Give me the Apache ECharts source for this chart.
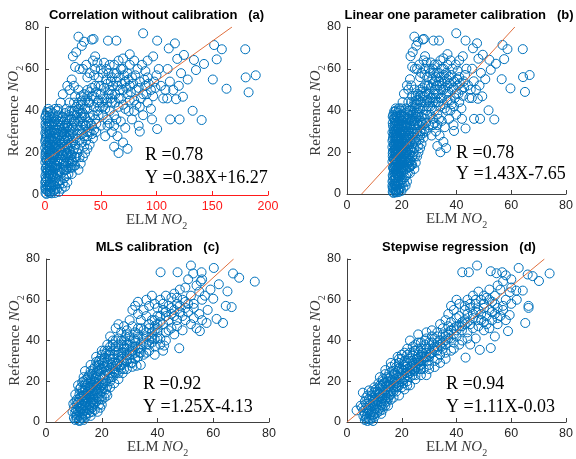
<!DOCTYPE html>
<html><head><meta charset="utf-8">
<script src="https://cdn.jsdelivr.net/npm/echarts@6/dist/echarts.min.js"></script>
<style>html,body{margin:0;padding:0;background:#fff}#c{width:576px;height:459px}</style>
</head><body><div id="c"></div>
<script>
const titles = ['Correlation without calibration   (a)','Linear one parameter calibration   (b)','MLS calibration   (c)','Stepwise regression   (d)'];
const rTexts = ['R =0.78','R =0.78','R =0.92','R =0.94'];
const eqTexts = ['Y =0.38X+16.27','Y =1.43X-7.65','Y =1.25X-4.13','Y =1.11X-0.03'];
const slopes = [0.38,1.43,1.25,1.11];
const intercepts = [16.27,-7.65,-4.13,-0.03];
const xMaxes = [200,80,80,80];
const xIntervals = [50,20,20,20];
const yMax = 80;
const yInterval = 20;

const pointsA = [
[0.5,1],[1,2.5],[0.3,4],[1.5,5],[0.8,6.5],[2,7.5],[0.4,9],[1.2,10.5],[2.5,11],[0.6,12.5],[1.8,14],[0.3,15.5],[1,17],[2.2,18],[0.5,19.5],[1.5,21],[0.2,22.5],[1.1,24],[2.4,25],[0.6,26.5],[1.7,28],[0.3,29.5],[1.2,31],[2,32.5],[0.5,34],[1.4,36],[0.8,38],[2.5,39.5],[3,41],[0.4,3],[2.8,2],[3.5,5],[3,9],[3.8,13],[3.2,16],[3.6,20],[3.1,23],[3.9,27],[3.3,30],[3.7,34],[2.6,36.5],[0.9,27.5],[1.9,23.5],[0.7,20.5],[1.6,16.5],[2.1,12],[0.9,8],[1.3,0.5],
[5,40],[7,39],[9,41],[11,40],[6,37],[12,38],
[5,2],[6,4],[8,6],[4.5,8],[7,9],[10,8],[12,10],[5.5,12],[9,12.5],[14,13],[6,15],[11,16],[16,15],[4.5,17],[8,18],[13,19],[18,18],[6,21],[10,22],[15,21],[20,20],[5,24],[9,25],[14,24],[18,26],[7,28],[12,29],[16,30],[5,31],[10,33],[14,35],[20,27],[22,16],[19,12],[17,8],[13,5],[24,10],[26,14],[15,3],[9,2.5],
[20,33],[22,36],[24,40],[26,38],[28,42],[30,35],[32,39],[25,30],[28,27],[31,31],[34,34],[36,37],[38,41],[40,44],[35,28],[38,30],[42,33],[45,36],[47,40],[30,22],[33,25],[36,20],[40,24],[43,27],[46,30],[28,18],[32,15],[26,22],[24,25],[22,28],[27,47],[30,50],[33,45],[35,48],[22,44],[19,41],[18,36],[38,50],[42,47],[45,52],[48,45],[50,48],[40,37],[44,42],[50,33],[52,38],[37,26],[34,18],[25,16],[30,12],[23,19],[21,23],[29,33],[33,29],[39,35],
[52,42],[55,46],[58,50],[60,44],[63,48],[65,52],[55,55],[58,40],[62,38],[66,42],[68,46],[70,50],[72,54],[60,56],[64,58],[68,60],[74,48],[76,52],[78,56],[80,45],[82,50],[85,54],[88,48],[90,52],[92,56],[95,50],[98,54],[100,57],[75,40],[78,36],[72,32],[68,35],[60,30],[56,33],[54,28],[65,28],[70,25],[74,22],[66,20],[62,23],[85,42],[88,38],[92,44],[95,41],[83,60],[87,62],[90,59],[80,64],[76,62],[104,52],[108,50],[112,54],[115,50],[120,52],[102,60],[106,46],[96,36],[84,33],[58,62],[52,58],[55,60],[48,56],[45,60],[50,52],
[30,75.4],[33,71],[35,73],[28,68],[25,66],[27,61],[31,60],[34,60],[37,62],[40,58],[43,64],[44,57],[20,52],[22,50],[24,55],[26,52],[16,48],[14,44],[42,74],[38,56],
[43.5,74.3],[56.5,73.5],[64,73.5],[88,77],[100.6,73.5],[116.5,72.2],[111,69.8],[151.7,71.4],[158.6,69.4],[179.6,69.4],[180,56],[189,57],[182.6,48.9],[162.8,50.6],[150.5,55],[142.6,62.4],[135.4,59.5],[133.6,64.3],[154,64.6],[132.4,40.1],[140.5,35.7],[120.7,36],[112.3,36],[100.6,31.4],[85,30.2],[124.6,66.7],[118.6,64.8],[123.7,46.8],[117.6,45.6],[109.6,46],[97,66],[92,64],[76,67],[70,65],[128,55],[122,58],[110,60]
];
const denseA = [
[4.5,1],[6,0.8],[7.5,2],[9,1],[11,3],[12.5,1.5],[4,4.5],[5.5,6],[7,5],[9,4.5],[10.5,5.5],[12,6.5],[14,7],[16,5.5],[18,4],[20,6],[4,10],[5.5,9.5],[7,11],[8.5,8.5],[10,10.5],[11.5,12],[13,11],[15,10.5],[17,12],[19,9],[21,10],[23,13],[4.5,14],[6.5,13],[8,15],[9.5,14],[11,14],[13,16],[15,17],[17,16],[19,15],[21,18],[23,15],[4,19],[5.5,18],[7,20],[9,19.5],[11,19],[12.5,21],[14,22],[16,19],[18,21],[20,23],[22,21],[24,19],[4.5,22],[6,23],[8,22.5],[10,24],[12,23],[13,26],[15,25],[17,23],[19,24],[21,26],[23,24],[4,26],[5.5,27],[7,25.5],[9,27],[11,27],[13,28.5],[15,28],[17,29],[19,28],[21,30],[4.5,29],[6,30],[8,31],[9.5,29.5],[11,31],[13,32],[15,33],[17,32],[19,34],[4,33],[6,34],[8,35],[10,36],[12,35],[16,37],[18,39],[21,38],
[22,31],[24,33],[26,35],[25,27],[27,24],[29,29],[31,26],[32,33],[34,31],[35,38],[37,33],[38,28],[40,30],[41,34],[43,38],[44,31],[46,34],[48,38],[49,42],[51,44],[53,46],[54,41],[56,44],[57,48],[59,46],[26,44],[28,38],[30,44],[32,47],[34,43],[36,45],[38,47],[40,49],[42,51],[44,47],[46,49],[48,52],[29,20],[31,18],[35,23],[38,22],[42,29],[27,14],[24,13],[21,13],[33,37],[36,41],[39,44],[47,44],
[53,51],[56,53],[59,54],[61,52],[62,58],[64,54],[66,56],[67,50],[69,53],[71,57],[73,51],[75,55],[77,49],[79,53],[81,57],[84,51],[86,46],[89,55],[91,48],[93,53],[97,47],[99,51],[60,48],[63,44],[66,46],[70,43],[72,41],[76,45],[80,40],[82,43],[70,60],[74,58],[62,62],[66,64],[57,58],[53,63],[50,60],[47,63],[45,66],[56,36],[58,34],[62,33],[64,36]
];
const coreA = [
[0.2,6],[1,13],[0.4,18],[2.7,21],[0.2,25.5],[1.3,29],[0.6,32.5],[2.3,35],[0.3,37],[1.6,39.5],[4.2,37.5],[4.8,35],[5.2,3.5],[3.9,1],[2.2,4],[4.5,11.5],[6.5,10],[5,15.5],[4.5,20.5],[6.5,26],[5,28],[7.5,32.5],[6.5,17.5],[8.5,20.5],[9.5,23],[7.5,24],[10,29.5],[8.5,33.5],[11,37.5],[13.5,33],[15,37],[12,41],[18,33],[20,36],[22,40],[14.5,30],[16.5,27],[18.5,30],[20,32],[23,29],[25,32],[27,35],[24,36],[29,39],[26,40],[30,41],[32,43],[34,39],[31,36],[36,33],[25,21],[27,18],[24,16],[19,20],[21,15],[17,14],[15,19],[12,17],[10,14],[8,13]
];

const pointsB = [
[16.7,1],[17,2.5],[16.6,4],[17.2,5],[16.9,6.5],[17.5,7.5],[16.7,9],[17.1,10.5],[17.6,11],[16.8,12.5],[17.3,14],[16.6,15.5],[17,17],[17.5,18],[16.7,19.5],[17.2,21],[16.6,22.5],[17,24],[17.6,25],[16.8,26.5],[17.3,28],[16.6,29.5],[17.1,31],[17.4,32.5],[16.7,34],[17.2,36],[16.9,38],[17.6,39.5],[17.8,41],[16.7,3],[17.7,2],[17.5,5],[17.4,9],[17.6,13],[17.5,16],[17.6,20],[17.4,23],[17.6,27],[17.5,30],[17.6,34],[17.3,36.5],[16.9,27.5],[17.2,23.5],[16.8,20.5],[17.1,16.5],[17.2,12],[16.9,8],[17,0.5],
[17.9,40],[18.5,39],[19,41],[19.5,40],[18.2,37],[19.8,38],
[17.9,2],[18.2,4],[18.7,6],[17.8,8],[18.5,9],[19.2,8],[19.8,10],[18.1,12],[19,12.5],[20.3,13],[18.2,15],[19.5,16],[20.8,15],[17.8,17],[18.7,18],[20,19],[21.4,18],[18.2,21],[19.2,22],[20.6,21],[21.9,20],[17.9,24],[19,25],[20.3,24],[21.4,26],[18.5,28],[19.8,29],[20.8,30],[17.9,31],[19.2,33],[20.3,35],[21.9,27],[22.4,16],[21.6,12],[21.1,8],[20,5],[23,10],[23.5,14],[20.6,3],[19,2.5],
[21.9,33],[22.4,36],[23,40],[23.5,38],[24,42],[24.6,35],[25.1,39],[23.2,30],[24,27],[24.8,31],[25.6,34],[26.1,37],[26.7,41],[27.2,44],[25.9,28],[26.7,30],[27.7,33],[28.5,36],[29,40],[24.6,22],[25.3,25],[26.1,20],[27.2,24],[28,27],[28.8,30],[24,18],[25.1,15],[23.5,22],[23,25],[22.4,28],[23.8,47],[24.6,50],[25.3,45],[25.9,48],[22.4,44],[21.6,41],[21.4,36],[26.7,50],[27.7,47],[28.5,52],[29.3,45],[29.9,48],[27.2,37],[28.3,42],[29.9,33],[30.4,38],[26.4,26],[25.6,18],[23.2,16],[24.6,12],[22.7,19],[22.2,23],[24.3,33],[25.3,29],[26.9,35],
[30.4,42],[31.2,46],[32,50],[32.5,44],[33.3,48],[33.8,52],[31.2,55],[32,40],[33,38],[34.1,42],[34.6,46],[35.2,50],[35.7,54],[32.5,56],[33.6,58],[34.6,60],[36.2,48],[36.7,52],[37.3,56],[37.8,45],[38.3,50],[39.1,54],[39.9,48],[40.4,52],[41,56],[41.8,50],[42.6,54],[43.1,57],[36.5,40],[37.3,36],[35.7,32],[34.6,35],[32.5,30],[31.4,33],[30.9,28],[33.8,28],[35.2,25],[36.2,22],[34.1,20],[33,23],[39.1,42],[39.9,38],[41,44],[41.8,41],[38.6,60],[39.7,62],[40.4,59],[37.8,64],[36.7,62],[44.2,52],[45.2,50],[46.3,54],[47.1,50],[48.4,52],[43.6,60],[44.7,46],[42,36],[38.9,33],[32,62],[30.4,58],[31.2,60],[29.3,56],[28.5,60],[29.9,52],
[24.6,75.4],[25.3,71],[25.9,73],[24,68],[23.2,66],[23.8,61],[24.8,60],[25.6,60],[26.4,62],[27.2,58],[28,64],[28.3,57],[21.9,52],[22.4,50],[23,55],[23.5,52],[20.8,48],[20.3,44],[27.7,74],[26.7,56],
[28.1,74.3],[31.6,73.5],[33.6,73.5],[39.9,77],[43.3,73.5],[47.5,72.2],[46,69.8],[56.8,71.4],[58.6,69.4],[64.2,69.4],[64.3,56],[66.7,57],[65,48.9],[59.7,50.6],[56.5,55],[54.4,62.4],[52.5,59.5],[52,64.3],[57.4,64.6],[51.7,40.1],[53.8,35.7],[48.6,36],[46.4,36],[43.3,31.4],[39.1,30.2],[49.6,66.7],[48,64.8],[49.4,46.8],[47.8,45.6],[45.6,46],[42.3,66],[41,64],[36.7,67],[35.2,65],[50.5,55],[48.9,58],[45.7,60]
];
const denseB = [
[17.8,1],[18.2,0.8],[18.6,2],[19,1],[19.5,3],[19.9,1.5],[17.7,4.5],[18.1,6],[18.5,5],[19,4.5],[19.4,5.5],[19.8,6.5],[20.3,7],[20.8,5.5],[21.4,4],[21.9,6],[17.7,10],[18.1,9.5],[18.5,11],[18.9,8.5],[19.2,10.5],[19.6,12],[20,11],[20.6,10.5],[21.1,12],[21.6,9],[22.2,10],[22.7,13],[17.8,14],[18.3,13],[18.7,15],[19.1,14],[19.5,14],[20,16],[20.6,17],[21.1,16],[21.6,15],[22.2,18],[22.7,15],[17.7,19],[18.1,18],[18.5,20],[19,19.5],[19.5,19],[19.9,21],[20.3,22],[20.8,19],[21.4,21],[21.9,23],[22.4,21],[23,19],[17.8,22],[18.2,23],[18.7,22.5],[19.2,24],[19.8,23],[20,26],[20.6,25],[21.1,23],[21.6,24],[22.2,26],[22.7,24],[17.7,26],[18.1,27],[18.5,25.5],[19,27],[19.5,27],[20,28.5],[20.6,28],[21.1,29],[21.6,28],[22.2,30],[17.8,29],[18.2,30],[18.7,31],[19.1,29.5],[19.5,31],[20,32],[20.6,33],[21.1,32],[21.6,34],[17.7,33],[18.2,34],[18.7,35],[19.2,36],[19.8,35],[20.8,37],[21.4,39],[22.2,38],
[22.4,31],[23,33],[23.5,35],[23.2,27],[23.8,24],[24.3,29],[24.8,26],[25.1,33],[25.6,31],[25.9,38],[26.4,33],[26.7,28],[27.2,30],[27.5,34],[28,38],[28.3,31],[28.8,34],[29.3,38],[29.6,42],[30.1,44],[30.6,46],[30.9,41],[31.4,44],[31.7,48],[32.2,46],[23.5,44],[24,38],[24.6,44],[25.1,47],[25.6,43],[26.1,45],[26.7,47],[27.2,49],[27.7,51],[28.3,47],[28.8,49],[29.3,52],[24.3,20],[24.8,18],[25.9,23],[26.7,22],[27.7,29],[23.8,14],[23,13],[22.2,13],[25.3,37],[26.1,41],[26.9,44],[29,44],
[30.6,51],[31.4,53],[32.2,54],[32.8,52],[33,58],[33.6,54],[34.1,56],[34.4,50],[34.9,53],[35.4,57],[36,51],[36.5,55],[37,49],[37.5,53],[38.1,57],[38.9,51],[39.4,46],[40.2,55],[40.7,48],[41.2,53],[42.3,47],[42.8,51],[32.5,48],[33.3,44],[34.1,46],[35.2,43],[35.7,41],[36.7,45],[37.8,40],[38.3,43],[35.2,60],[36.2,58],[33,62],[34.1,64],[31.7,58],[30.6,63],[29.9,60],[29.1,63],[28.5,66],[31.4,36],[32,34],[33,33],[33.6,36]
];
const coreB = [
[16.6,6],[17,13],[16.7,18],[17.5,21.5],[16.6,25.5],[17.1,29],[16.8,32.5],[17.4,35],[16.7,37],[17.2,39.5],[17.9,37.5],[18,35],[18.2,3.5],[17.6,1],[17.4,4],[17.9,11.5],[18.3,10],[17.9,15.5],[17.8,20.5],[18.3,26],[17.9,28],[18.6,32.5],[18.3,17.5],[18.9,20.5],[19.1,23],[18.6,24],[19.2,29.5],[18.9,33.5],[19.5,37.5],[20.2,33],[20.6,37],[19.8,41],[21.4,33],[21.9,36],[22.4,40],[20.4,30],[21,27],[21.5,30],[21.9,32],[22.7,29],[23.2,32],[23.8,35],[23,36],[24.3,39],[23.5,40],[24.6,41],[25.1,43],[25.6,39],[24.8,36],[26.1,33],[23.2,21],[23.8,18],[23,16],[21.6,20],[22.2,15],[21.1,14],[20.6,19],[19.8,17],[19.2,14],[18.7,13]
];

const pointsC = [
[10,2],[11,1.5],[12,3],[10.5,4.5],[11.5,5.5],[13,4],[12.5,6.5],[14,5.5],[10,7],[11,8.5],[13,8],[14.5,7.5],[12,10],[13.5,10.5],[15,9.5],[11,11],[12.5,12.5],[14,12],[15.5,13],[16,11],[10.5,13.5],[13,14.5],[15,15],[9.5,5],[9.8,9],[11.8,0.8],[14.2,2.5],[15.5,4.5],[16.5,7],[17,9.5],[16.8,12.5],[12,16],[14,17],[11.5,18],[13,19.5],[18.5,5],[19.5,7],
[15.5,17],[16.5,15.5],[17,18],[18,16],[16,20],[17.5,21],[19,19],[18.5,14],[19.5,17],[20,15],[15,22],[16.5,23.5],[18,24],[19.5,22.5],[20.5,21],[21,19],[22,17.5],[17,26],[18.5,27.5],[20,26],[21.5,25],[22.5,23],[19,30],[20.5,29],[22,28],[23,26.5],[16,28],[18,32],[20,33],[21,12],[23,20],[24,22],[19,11],[17.5,9],[20,8.5],[22,13],[13.5,22],[14,25],
[23,31],[24,29],[25,27.5],[26,30],[24.5,33],[26,35],[27,32],[28,34],[25,37],[27,38],[29,36],[30,38],[28,40],[26,41],[31,35],[32,37],[30,33],[29,31],[27,28],[25,24],[28,26],[31,29],[33,32],[34,36],[32,40],[30,42],[24,40],[22,38],[23,35],[27,44],[29,43],[33,41],[35,39],[36,34],[34,28],[33,46],[31,47],[28,47],[25,46],[21,35],[23,42],[26,48],[30,50],
[36,42],[38,44],[37,48],[39,50],[40,46],[42,48],[41,52],[43,54],[44,50],[46,52],[45,56],[47,58],[48,54],[50,56],[49,60],[51,58],[52,62],[53,56],[50,50],[47,47],[44,45],[40,41],[38,39],[35,45],[34,50],[33,53],[35,55],[37,57],[39,58],[36,60],[38,62],[41,60],[43,62],[45,61],[40,56],[42,58],[46,63],[48,65],[50,66],[54,67],[55,64],[56,60],[53,51],[55,53],[52,48],[49,45],[46,43],[43,40],[41,38],[37,35],[39,33],[42,35],[55.5,69],[56,70],[51,70],[33,59],[32,57],[31,55],
[41.1,73.5],[47.2,73.5],[52,76.8],[52.8,72.9],[55.8,73.5],[60.2,75.6],[67.1,72.9],[69.3,70.8],[74.9,68.9],[65.1,64.1],[62,67.6],[60,60.5],[64.5,57],[66.6,56.4],[63.5,48.6],[61.2,50.6],[55.2,44.6],[57.6,48.6],[47.8,36.2],[42.4,37.5],[39,40.6],[32.5,27.6],[31,27.1],[58,55],[57,62],[59,65],[54,46],[56,50]
];
const denseC = [
[10.5,1],[12.5,2],[13.5,1],[11,3.5],[12,5],[13.5,6],[15,6.5],[10.8,6],[11.8,7.5],[12.8,9],[14,9],[15.5,8],[16,9.5],[12,11.5],[13,12.5],[14.5,11],[16,12],[17,11],[13,15.5],[14.5,14],[16,14],[17.5,13],[18.5,12],[12.5,17],[14,18.5],[15.5,16],[17,15],[18,17.5],[19,16],[13.5,20],[15,19],[16.5,18],[18,19],[20,18],[14.5,21],[16,21],[17.5,19.5],[19,21],[20.5,19],[21.5,16],[15.5,23],[17,22.5],[18.5,25],[19.5,26],[21,23],[22,25],[23.5,22],[16,25],[17.5,27],[19,28],[20.5,27.5],[22,30],[23.5,28],[25,26],[18,29.5],[19.5,31],[21,31.5],[22.5,33],[24,31],[25.5,29],[26.5,27],[20,35],[21.5,33.5],[23,37],[24.5,35],[26,33],[27.5,31],[28,36],[29,38],[30,35],[31,37],[32,39],[27,40],[28.5,42],[30,40],[31.5,41],[33,43],[34,38],[35,41],[36,44],[34,46],[32,44],[29,45],[37,46],[38,50],[40,52],[36,52],[39,47],[41,49],[43,52],[45,53],[44,57],[46,55],[48,57],[50,59],[47,61],[42,55],[20,12.5],[21.5,14],[23,17],[24.5,19],[26,21],[27.5,24],[29,26],[30.5,29],[32,31],[33.5,34],[35,33],[37,38],[39,37],[41,41],[43,44],[45,46],[47,50],[49,52],[51,54],[53,58],[38,41],[40,44]
];
const coreC = [
[11,2.5],[12,0.5],[13,2],[14.5,4],[15.5,6],[16,3],[17.5,6],[17,8],[18,10],[19,8.5],[20,11],[13.5,13],[15,11.5],[16.5,10],[17.5,15.5],[18.5,18.5],[19.5,14],[20.5,16.5],[21.5,20],[22.5,21.5],[23,24],[24,26],[25.5,28.5],[24.5,24.5],[26,24],[27,26],[28,29],[29,30],[30,31],[31,33],[32,34],[33,36],[34,34],[36,38],[37,40],[38,42],[39,45],[40,48],[29,33],[28,37],[27,34],[26,38],[25,40],[24,38],[23,33],[22,35],[21,27],[20,30],[19,25],[18,22],[17,20],[16,17],[15,13.5],[14,15.5],[12,13.5],[11.5,9.5],[10.5,10],[13,7],[16.5,5],[14,3.5]
];

const pointsD = [
[6.5,1],[7,2.5],[8,1.5],[7.5,4],[8.5,3.5],[9,5],[6,5.5],[10,4],[10.5,6.5],[8,7],[9.5,8],[11,8.5],[7,9],[12,7],[12.5,10],[10,11],[11.5,12],[13,11.5],[9,13],[12,14],[14,13],[13.5,9],[14.5,10],[11,15],[8.5,10.5],[6,3],[5.5,7],[5,8],[3.5,5.7],[5.8,14.4],[7,12],[15,8],[16,11],[8,15.5],[10,17],[12.5,17.5],
[14,16],[15,14],[16,16.5],[15.5,19],[17,18],[18,15],[17.5,21],[19,19.5],[20,17],[16,22],[18,23],[19.5,24],[21,22],[22,20],[20,26],[21.5,27],[23,25],[24,23],[22,29],[23.5,30],[25,28],[26,26],[13,20],[14.5,22],[16.5,25],[18,27],[19,29],[17,12],[19,13],[21,16],[23,18],[25,21],[27,23],[20,31],[22,33],[24,32.5],[14,25.5],[12,22],[18.5,32],[16,29],
[26,31],[27,33],[28,30],[29,34],[30,32],[27,36],[28.5,38],[30,36],[31,39],[32,35],[33,37],[34,40],[31,42],[29,41],[26,39],[25,35],[32,30],[34,33],[35,36],[36,38],[37,41],[35,43],[33,44],[38,35],[36,31],[30,28],[28,26],[29,23],[32,27],[34,29],[24,37],[23,40],[26,43],[38,45],[40,42],[39,39],[41,38],[37,47],[22,36],
[40,47],[42,49],[41,52],[43,50],[44,53],[45,48],[46,51],[47,54],[48,50],[49,53],[50,56],[45,56],[47,58],[43,57],[42,45],[44,44],[46,46],[48,47],[50,49],[51,52],[52,55],[53,50],[54,53],[55,56],[56,52],[57,55],[58,50],[49,60],[51,61],[53,59],[44,60],[46,62],[48,64],[39,55],[41,58],[37,53],[36,50],[38,57],[34,48],[50,45],[52,46],[55,48],[40,60],[54,62],[56,65],[58,60],[60,58],[52,65],[55,67],[60,66],[57,69],
[42.1,73.5],[44.5,73.5],[47.5,76.8],[52.5,74],[54.6,73],[56.7,73.5],[62.7,75.6],[66,72.4],[67.8,71.6],[70.1,69.2],[74,72.9],[66.3,57],[66.3,56],[65.1,48.6],[59.4,52.5],[58.8,44.6],[52.5,36.3],[48.5,35.4],[43.3,31.6],[59.4,63.7],[61.8,64.5],[64.2,64.5],[62,60],[54,42],[45,38],[47,41],[60,70],[58,72]
];
const denseD = [
[7.5,0.5],[9,2],[9.5,3.5],[8,5.5],[7,7],[10.5,9.5],[11.5,6],[12.5,8.5],[13,6],[14,8],[6.5,10],[8,11],[9.5,12],[10.5,13.5],[12,12],[13.5,14.5],[14.5,12],[15.5,13],[9,15],[10.5,16],[12,16.5],[13,18],[14.5,17.5],[16,15],[17,17],[18.5,17],[11.5,19],[13,21],[15,20],[16.5,20.5],[18,19],[19.5,21],[20.5,19],[22,18],[14,23.5],[15.5,24],[17,23.5],[18.5,25],[20,23],[21.5,24],[23,22],[24.5,25],[16,27],[17.5,28.5],[19,26.5],[20.5,28],[22,26],[23.5,27.5],[25,26],[26.5,28],[21,30],[22.5,31],[24,29],[25.5,31],[27,30],[28.5,32],[29.5,30],[23,34],[24.5,35],[26,33],[27.5,34],[29,36],[30.5,34],[31.5,36],[25,38],[27,39],[28.5,40],[30,39],[32,41],[33,39],[34.5,37],[36,40],[29,44],[31,45],[33,42],[35,46],[37,44],[39,43],[40,45],[38,49],[40,51],[42,47],[44,49],[46,53],[48,55],[43,55],[45,58],[47,60],[50,58],[52,60],[49,50],[51,48],[53,54],[55,51],[57,57],[54,58],[50,62],[30,26],[27,26],[25,23],[33,31],[36,34],[39,36],[42,40],[44,41],[26,36],[21,34],[19,31],[20,33],[10,6],[11,10.5],[7.5,13],[12.5,4]
];
const coreD = [
[7,1.5],[8.5,1],[9.5,0.5],[10,2.5],[11,4.5],[12,5.5],[13,7.5],[6.5,4],[7.5,6],[8.5,8.5],[9.5,10],[10.5,11.5],[11.5,14],[13,13],[14,11],[15,11.5],[16,13.5],[17,15],[18,17.5],[19,18],[20,20],[21,21],[22,23],[23,24],[24,26],[25,27],[26,29],[27,28],[28,31],[29,32],[30,33],[31,34],[32,37],[33,35],[34,38],[35,39],[36,42],[37,43],[38,41],[39,46],[41,47],[43,48],[12,18],[13.5,19],[15,17],[16,18.5],[17.5,20],[19,22],[20.5,25],[22,24.5],[23,27],[24.5,29],[26,30],[27.5,32],[21,28],[19,26],[17.5,24],[15.5,21.5],[14,19.5],[10,14.5]
];

const allPoints = [
  pointsA.concat(denseA, coreA),
  pointsB.concat(denseB, coreB),
  pointsC.concat(denseC, coreC),
  pointsD.concat(denseD, coreD)
];

const grids = [
  {left:45, top:27, width:223, height:168},
  {left:347, top:27, width:224, height:167},
  {left:46, top:259, width:223, height:168},
  {left:347, top:259, width:224, height:168}
];
const annPos = [[145,155,178],[456,153,174],[143,384,407],[446,384,407]];

const axisGrey = '#404040';
const red = '#ff1a1a';
const serif = 'Liberation Serif';
const nameRich = {
  t:{fontFamily:serif, fontSize:15, color:'#3a3a3a', lineHeight:22, verticalAlign:'middle'},
  i:{fontFamily:serif, fontStyle:'italic', fontSize:15, color:'#3a3a3a', lineHeight:22, verticalAlign:'middle'},
  s:{fontFamily:serif, fontSize:10, color:'#3a3a3a', lineHeight:12, verticalAlign:'bottom'}
};

const xAxes = [], yAxes = [], series = [], title = [], graphic = [];
for (let i = 0; i < 4; i++) {
  const xc = i === 0 ? red : axisGrey;
  xAxes.push({
    type:'value', gridIndex:i, min:0, max:xMaxes[i], interval:xIntervals[i],
    axisLine:{show:true, onZero:false, lineStyle:{color:xc, width:1}},
    axisTick:{show:true, inside:true, length:4, lineStyle:{color:xc, width:1}},
    axisLabel:{color: i === 0 ? red : '#262626', fontFamily:'Liberation Sans', fontSize:12.5, margin:5},
    splitLine:{show:false},
    name:'{t|ELM }{i|NO}{s|2}', nameLocation:'middle', nameGap:14, nameMoveOverlap:false,
    nameTextStyle:{rich:nameRich}
  });
  yAxes.push({
    type:'value', gridIndex:i, min:0, max:yMax, interval:yInterval,
    axisLine:{show:true, onZero:false, lineStyle:{color:axisGrey, width:1}},
    axisTick:{show:true, inside:true, length:4, lineStyle:{color:axisGrey, width:1}},
    axisLabel:{color:'#262626', fontFamily:'Liberation Sans', fontSize:12.5, margin:6},
    splitLine:{show:false},
    name:'{t|Reference }{i|NO}{s|2}', nameLocation:'middle', nameGap:20, nameMoveOverlap:false,
    nameTextStyle:{rich:nameRich}
  });
  series.push({
    type:'scatter', xAxisIndex:i, yAxisIndex:i, data:allPoints[i],
    symbol:'circle', symbolSize:9, silent:true,
    itemStyle:{color:'rgba(0,0,0,0)', borderColor:'#0072BD', borderWidth:1, opacity:1}
  });
  const m = slopes[i], b = intercepts[i];
  const x0 = Math.max(0, -b / m), x1 = (yMax - b) / m;
  series.push({
    type:'line', xAxisIndex:i, yAxisIndex:i, data:[[x0, m*x0+b],[x1, m*x1+b]],
    symbol:'none', silent:true, z:5,
    lineStyle:{color:'#E0703F', width:1}
  });
  const g = grids[i];
  title.push({
    text:titles[i], left:g.left + g.width/2, top:g.top - 18, textAlign:'center', padding:0,
    textStyle:{fontFamily:'Liberation Sans', fontWeight:'bold', fontSize:13, color:'#000'}
  });
  const p = annPos[i];
  graphic.push({type:'text', style:{text:rTexts[i], x:p[0], y:p[1], font:'18px "Liberation Serif"', fill:'#000', verticalAlign:'middle'}, z:10});
  graphic.push({type:'text', style:{text:eqTexts[i], x:p[0], y:p[2], font:'18px "Liberation Serif"', fill:'#000', verticalAlign:'middle'}, z:10});
}

const chart = echarts.init(document.getElementById('c'), null, {renderer:'canvas'});
chart.setOption({
  backgroundColor:'#fff', animation:false,
  title, grid:grids, xAxis:xAxes, yAxis:yAxes, series, graphic
});
</script></body></html>
